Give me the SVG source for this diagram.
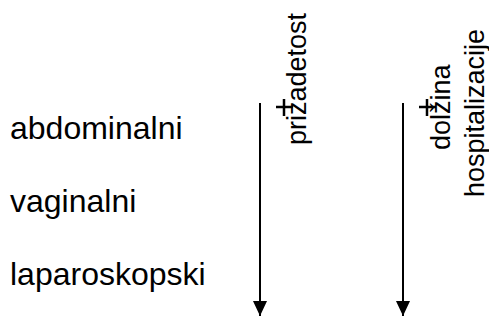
<svg xmlns="http://www.w3.org/2000/svg" width="489" height="326" viewBox="0 0 489 326">
<style>
text { font-family: "Liberation Sans", Arial, sans-serif; fill: #000; }
.row { font-size: 32px; }
.col { font-size: 27px; }
.axis { stroke: #000; stroke-width: 2; fill: none; }
.plus { stroke: #000; stroke-width: 2.5; }
</style>
<defs>
<marker id="arr" markerWidth="16" markerHeight="14" refX="15" refY="7" orient="auto" markerUnits="userSpaceOnUse" viewBox="0 0 16 14">
<path d="M0,0 L15,7 L0,14 Z" fill="#000"/>
</marker>
</defs>
<g id="row-abdominalni"><text class="row" x="10" y="139">abdominalni</text></g>
<g id="row-vaginalni"><text class="row" x="10" y="212">vaginalni</text></g>
<g id="row-laparoskopski"><text class="row" x="10" y="285">laparoskopski</text></g>
<g id="col-prizadetost">
<text class="col" transform="translate(306,145) rotate(-90)">prizadetost</text>
<path class="plus" d="M276,107 H293 M284,99 V116"/>
</g>
<g id="col-dolzina">
<text class="col" transform="translate(450,150) rotate(-90)">dolžina</text>
<text class="col" transform="translate(484,197) rotate(-90)">hospitalizacije</text>
<path class="plus" d="M419,107 H436 M427,99 V116"/>
</g>
<g id="connectors">
<line class="axis" x1="260" y1="103" x2="260" y2="316" marker-end="url(#arr)"/>
<line class="axis" x1="403" y1="103" x2="403" y2="316" marker-end="url(#arr)"/>
</g>
</svg>
